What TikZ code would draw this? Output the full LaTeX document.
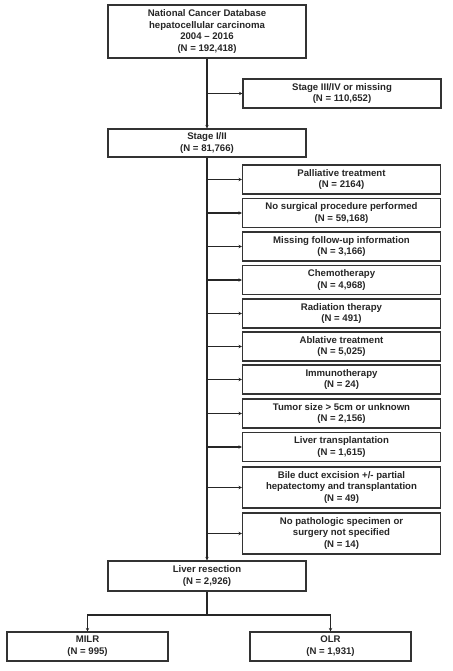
\documentclass[tikz,border=0pt]{standalone}
\usepackage{fontspec}
\setmainfont{Liberation Sans}
\usetikzlibrary{arrows.meta,positioning,calc}

\begin{document}
\begin{tikzpicture}[x=1pt, y=-1pt,
    box/.style={draw=black!80, line width=1.1pt, fill=white, align=center, inner sep=0pt,
      font=\bfseries\fontsize{9.6}{11.8}\selectfont, text=black!85},
    wide/.style={box, minimum width=198pt, minimum height=29pt},
    arr/.style={draw=black!85, line width=1.1pt, -{Stealth[length=3.5pt,width=3.5pt]}}]
    \useasboundingbox (0,0) rectangle (452,671);

    % Main column
    \node[wide, minimum height=53pt] (ncdb) at (207,31.5)
      {National Cancer Database\\hepatocellular carcinoma\\2004 -- 2016\\(N = 192,418)};
    \node[wide] (stage34) at (342,93.5) {Stage III/IV or missing\\(N = 110,652)};
    \node[wide, minimum height=28pt] (stage12) at (207,143) {Stage I/II\\(N = 81,766)};

    % Exclusions
    \node[wide] (pall) at (341.5,179.5) {Palliative treatment\\(N = 2164)};
    \node[wide] (nosurg) at (341.5,213) {No surgical procedure performed\\(N = 59,168)};
    \node[wide] (missing) at (341.5,246.5) {Missing follow-up information\\(N = 3,166)};
    \node[wide] (chemo) at (341.5,280) {Chemotherapy\\(N = 4,968)};
    \node[wide] (rad) at (341.5,313.5) {Radiation therapy\\(N = 491)};
    \node[wide] (abl) at (341.5,346.5) {Ablative treatment\\(N = 5,025)};
    \node[wide] (immuno) at (341.5,379.5) {Immunotherapy\\(N = 24)};
    \node[wide] (tumor) at (341.5,413.5) {Tumor size > 5cm or unknown\\(N = 2,156)};
    \node[wide] (ltx) at (341.5,447) {Liver transplantation\\(N = 1,615)};
    \node[wide, minimum height=41pt] (bile) at (341.5,487.5)
      {Bile duct excision +/- partial\\hepatectomy and transplantation\\(N = 49)};
    \node[wide, minimum height=41pt] (nopath) at (341.5,533.5)
      {No pathologic specimen or\\surgery not specified\\(N = 14)};

    % Resection and groups
    \node[wide, minimum height=30pt] (resect) at (207,576) {Liver resection\\(N = 2,926)};
    \node[box, minimum width=161pt, minimum height=29pt] (milr) at (87.5,646.5) {MILR\\(N = 995)};
    \node[box, minimum width=161pt, minimum height=29pt] (olr) at (330.5,646.5) {OLR\\(N = 1,931)};

    \draw[arr] (ncdb.south) -- (stage12.north);
    \draw[arr] (ncdb.south |- stage34.west) -- (stage34.west);
    \draw[arr] (stage12.south) -- (resect.north);
    \foreach \ex in {pall,nosurg,missing,chemo,rad,abl,immuno,tumor,ltx,bile,nopath}
      \draw[arr] (stage12.south |- \ex.west) -- (\ex.west);

    \coordinate (split) at (207,615);
    \draw[arr, -] (resect.south) -- (split);
    \draw[arr] (split) -| (milr.north);
    \draw[arr] (split) -| (olr.north);
\end{tikzpicture}
\end{document}
